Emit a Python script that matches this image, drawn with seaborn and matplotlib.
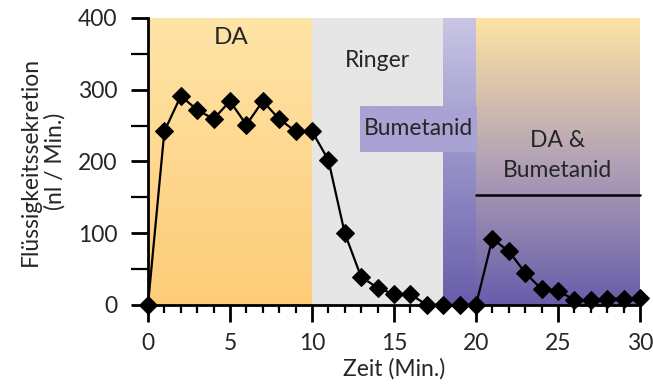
import numpy as np
import pandas as pd
import seaborn as sns
import matplotlib.pyplot as plt
from matplotlib.colors import LinearSegmentedColormap
from matplotlib.patches import Rectangle

# Daten
zeit = list(range(0, 31))
sekretion = [0, 242, 291, 272, 259, 284, 251, 284, 259, 242,
             242, 202, 100, 39, 24, 15, 15, 0, 0, 0,
             0, 92, 75, 45, 22, 20, 7, 7, 9, 9, 10]

phasen = ["DA", "Ringer", "Bumetanid", "DA &\nBumetanid"]
phasen_grenzen = [(0, 10), (10, 18), (18, 20), (20, 30)]

df = pd.DataFrame({"Zeit": zeit, "Sekretion": sekretion})

sns.set_style("ticks")
plt.rcParams['font.family'] = ['Lato', 'DejaVu Sans']

fig = plt.figure(figsize=(6.53, 3.88), dpi=100)
ax = fig.add_axes([0.2266, 0.214, 0.7534, 0.740])

# Hintergrund-Verläufe
farben = [
    ["#FDCC78", "#FFE4A7"],
    ["#E6E6E6", "#E6E6E6"],
    ["#675DAA", "#C9C6E6"],
    ["#675DAA", "#B3A2B5", "#FFE4A3"],
]
grad = np.linspace(0, 1, 256).reshape(-1, 1)
for (x0, x1), cols in zip(phasen_grenzen, farben):
    cm = LinearSegmentedColormap.from_list("c", cols)
    ax.imshow(grad, extent=(x0, x1, 0, 400), origin="lower", cmap=cm,
              aspect="auto", zorder=0)

ax.plot([20, 30], [153, 153], color="black", lw=1.8, zorder=2)

sns.lineplot(data=df, x="Zeit", y="Sekretion", ax=ax, color="black",
             marker="D", markersize=9.5, markeredgecolor="black",
             linewidth=1.6, zorder=3)
for ln in ax.lines:
    ln.set_clip_on(False)

ax.text(5.1, 372, phasen[0], fontsize=17.5, ha="center", va="center")
ax.text(14.0, 341, phasen[1], fontsize=16.5, ha="center", va="center")
ax.add_patch(Rectangle((12.93, 213), 7.13, 64, fc="#A9A3D4", ec="none",
                       zorder=1))
ax.text(16.52, 246, phasen[2], fontsize=16.5, ha="center", va="center",
        zorder=2)
ax.text(24.95, 208, phasen[3], fontsize=16.5, ha="center", va="center",
        linespacing=1.5)

ax.set_xlim(0, 30)
ax.set_ylim(0, 400)
ax.set_xticks(range(0, 31, 5))
ax.set_xticks(range(0, 31, 1), minor=True)
ax.set_yticks(range(0, 401, 100))
ax.set_yticks(range(0, 401, 50), minor=True)
ax.tick_params(axis="both", which="major", labelsize=16.5, width=2, length=12,
               color="black", direction="out")
ax.tick_params(axis="x", which="major", pad=8)
ax.tick_params(axis="y", which="major", pad=10)
ax.tick_params(axis="x", which="minor", width=1.6, length=6, color="black")
ax.tick_params(axis="y", which="minor", width=1.6, length=12, color="black")

sns.despine(ax=ax)
for s in ["left", "bottom"]:
    ax.spines[s].set_linewidth(2)
    ax.spines[s].set_color("black")

ax.set_xlabel("Zeit (Min.)", fontsize=16.5, labelpad=3)
ax.set_ylabel("Flüssigkeitssekretion\n(nl / Min.)", fontsize=16.5, labelpad=9)

plt.savefig("out.png", dpi=100)
